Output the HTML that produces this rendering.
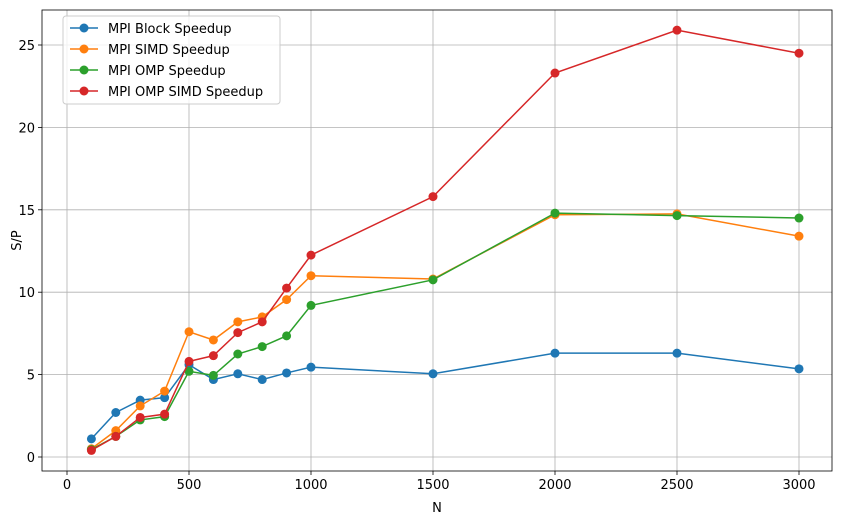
<!DOCTYPE html>
<html><head><meta charset="utf-8"><style>
body{margin:0;background:#fff;font-family:"Liberation Sans","DejaVu Sans",sans-serif;}
svg text{font-family:"DejaVu Sans","Liberation Sans",sans-serif;font-size:13px;fill:#000}
</style></head><body>
<svg id="c" width="841" height="525"></svg>
<script>
const xs=[100,200,300,400,500,600,700,800,900,1000,1500,2000,2500,3000];
const blockVals=[1.1,2.7,3.45,3.6,5.6,4.7,5.05,4.7,5.1,5.45,5.05,6.3,6.3,5.35];
const simdVals=[0.5,1.6,3.1,4.0,7.6,7.1,8.2,8.5,9.55,11.0,10.8,14.7,14.75,13.4];
const ompVals=[0.45,1.25,2.25,2.45,5.2,4.95,6.25,6.7,7.35,9.2,10.75,14.8,14.65,14.5];
const ompSimdVals=[0.4,1.25,2.4,2.6,5.8,6.15,7.55,8.2,10.25,12.25,15.8,23.3,25.9,24.5];
const xTicks=[0,500,1000,1500,2000,2500,3000];
const yTicks=[0,5,10,15,20,25];
const seriesNames=["MPI Block Speedup","MPI SIMD Speedup","MPI OMP Speedup","MPI OMP SIMD Speedup"];
const colors=["#1f77b4","#ff7f0e","#2ca02c","#d62728"];
const L=42,R=832,T=10,B=471;
const X=v=>67+v*(732/3000);
const Y=v=>457-v*16.48;
const svg=document.getElementById('c');
const NS="http://www.w3.org/2000/svg";
function mk(t,a,p){const e=document.createElementNS(NS,t);for(const k in a)e.setAttribute(k,a[k]);(p||svg).appendChild(e);return e;}
xTicks.forEach(t=>{
 const g=mk('line',{x1:X(t),x2:X(t),y1:T,y2:B,stroke:'#b0b0b0','stroke-width':0.8});
 
 
 mk('line',{x1:X(t),x2:X(t),y1:B,y2:B+4,stroke:'#000','stroke-width':0.8});
 const tx=mk('text',{x:X(t),y:B+18,'text-anchor':'middle'});tx.textContent=t;
 
 
});
yTicks.forEach(t=>{
 const g=mk('line',{x1:L,x2:R,y1:Y(t),y2:Y(t),stroke:'#b0b0b0','stroke-width':0.8});
 
 
 mk('line',{x1:L-4,x2:L,y1:Y(t),y2:Y(t),stroke:'#000','stroke-width':0.8});
 const tx=mk('text',{x:L-7,y:Y(t)+5,'text-anchor':'end'});tx.textContent=t;
 
 
});
const all=[blockVals,simdVals,ompVals,ompSimdVals];
all.forEach((vals,i)=>{
 const g=mk('g',{});
 
 
 mk('polyline',{points:xs.map((x,j)=>X(x)+','+Y(vals[j])).join(' '),fill:'none',stroke:colors[i],'stroke-width':1.5},g);
 xs.forEach((x,j)=>{const c=mk('circle',{cx:X(x),cy:Y(vals[j]),r:4.5,fill:colors[i]},g);
  
  });
});
const fr=mk('rect',{x:L,y:T,width:R-L,height:B-T,fill:'none',stroke:'#000','stroke-width':0.8});


const xl=mk('text',{x:(L+R)/2,y:512,'text-anchor':'middle'});xl.textContent='N';


const yl=mk('text',{x:21,y:(T+B)/2,'text-anchor':'middle',transform:'rotate(-90 21 '+((T+B)/2)+')'});yl.textContent='S/P';


const lg=mk('g',{});


mk('rect',{x:63,y:16,width:217,height:88,rx:3,fill:'#fff','fill-opacity':0.8,stroke:'#ccc'},lg);
seriesNames.forEach((n,i)=>{
 const y=28+i*21;
 const e=mk('g',{},lg);
 
 
 mk('line',{x1:70,x2:98,y1:y,y2:y,stroke:colors[i],'stroke-width':1.5},e);
 mk('circle',{cx:84,cy:y,r:4.5,fill:colors[i]},e);
 const t=mk('text',{x:108,y:y+5},e);t.textContent=n;
});
</script>
</body></html>
